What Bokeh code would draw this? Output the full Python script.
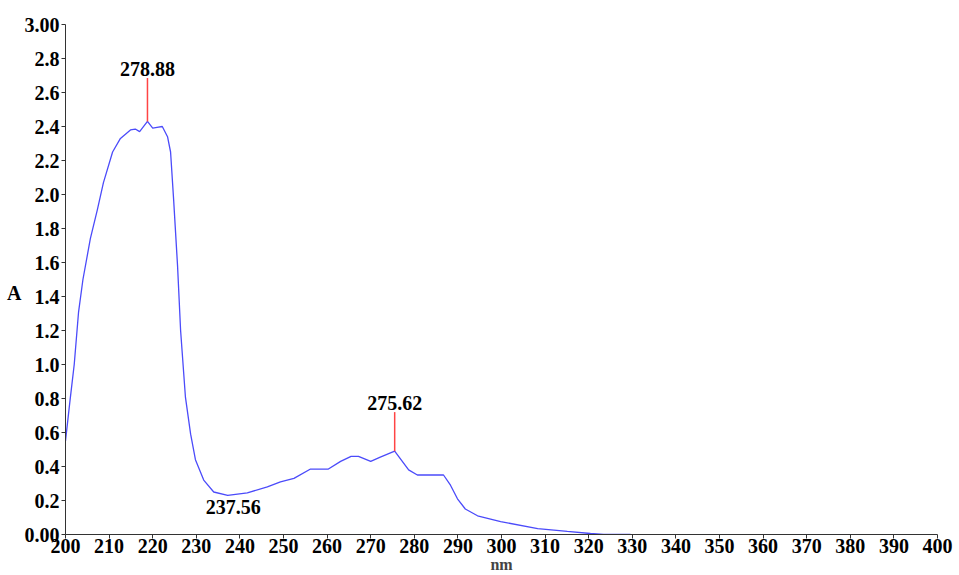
from bokeh.plotting import figure
from bokeh.models import FixedTicker
from bokeh.core.properties import value
from bokeh.embed import file_html
from bokeh.resources import INLINE

# spectrum (nm, absorbance)
wl = [200, 201, 202, 203, 204, 205.7, 207.3, 208.7, 210.8, 212.6, 214.9, 216, 217, 218.8,
      220, 221, 222.2, 223.4, 224.1, 224.8, 225.7, 226.4, 227.5, 228.7, 229.8, 231.7, 234,
      237.2, 241.7, 246.3, 249.3, 252.4, 256.2, 260.3, 263.1, 265.5, 267.2, 270, 272.2, 275.5,
      278.7, 280.7, 283, 286.7, 288.3, 289.9, 291.7, 294.5, 299.8, 308.3, 315.1, 320.4, 323.4, 329.6]
absb = [0.55, 0.78, 1.00, 1.31, 1.50, 1.74, 1.91, 2.07, 2.25, 2.33, 2.38, 2.385, 2.37, 2.43,
        2.39, 2.395, 2.40, 2.34, 2.25, 1.97, 1.58, 1.20, 0.81, 0.59, 0.44, 0.32, 0.25,
        0.23, 0.245, 0.28, 0.31, 0.33, 0.385, 0.385, 0.43, 0.46, 0.46, 0.43, 0.455, 0.49,
        0.38, 0.35, 0.35, 0.35, 0.29, 0.21, 0.15, 0.11, 0.076, 0.035, 0.018, 0.006, 0.0, 0.0]

# peak markers
peak_x = [218.8, 275.5]
peak_base = [2.43, 0.49]
peak_tip = [2.685, 0.72]
peak_labels = ["278.88", "275.62"]

# valley label
valley_x = [238.5]
valley_y = [0.16]
valley_labels = ["237.56"]

x_ticks = [200, 210, 220, 230, 240, 250, 260, 270, 280, 290, 300, 310, 320, 330, 340, 350, 360, 370, 380, 390, 400]
y_ticks = [0.0, 0.2, 0.4, 0.6, 0.8, 1.0, 1.2, 1.4, 1.6, 1.8, 2.0, 2.2, 2.4, 2.6, 2.8, 3.0]
y_tick_labels = ["0.00", "0.2", "0.4", "0.6", "0.8", "1.0", "1.2", "1.4", "1.6", "1.8", "2.0", "2.2", "2.4", "2.6", "2.8", "3.00"]

FONT = "Liberation Serif"
FS = "20px"

p = figure(width=959, height=575, x_range=(200, 400), y_range=(0, 3.0),
           output_backend="svg", toolbar_location=None,
           min_border_left=65, min_border_right=22, min_border_top=24, min_border_bottom=37)
p.outline_line_color = None
p.grid.visible = False
p.background_fill_color = "white"

p.line(wl, absb, line_color="#4b4bfa", line_width=1.3)

p.segment(x0=peak_x, y0=peak_base, x1=peak_x, y1=peak_tip, line_color="#ff4444", line_width=1.5)
p.text(x=peak_x, y=[t + 0.015 for t in peak_tip], text=peak_labels, text_font=value(FONT),
       text_font_style="bold", text_font_size=FS, text_align="center", text_baseline="bottom",
       text_color="black")
p.text(x=valley_x, y=valley_y, text=valley_labels, text_font=value(FONT),
       text_font_style="bold", text_font_size=FS, text_align="center", text_baseline="middle",
       text_color="black")

xa = p.xaxis[0]
xa.ticker = FixedTicker(ticks=x_ticks)
xa.axis_label = "nm"
xa.axis_label_text_font = FONT
xa.axis_label_text_font_style = "bold"
xa.axis_label_text_font_size = "16px"
xa.axis_label_standoff = 0
xa.major_label_standoff = 0

ya = p.yaxis[0]
ya.ticker = FixedTicker(ticks=y_ticks)
ya.major_label_overrides = {t: l for t, l in zip(y_ticks, y_tick_labels)}
ya.major_label_standoff = 2
ya.axis_label = "\nA"
ya.axis_label_orientation = "horizontal"
ya.axis_label_text_font = FONT
ya.axis_label_text_font_style = "bold"
ya.axis_label_text_font_size = FS
ya.axis_label_text_color = "black"
ya.axis_label_standoff = 0

for ax in (xa, ya):
    ax.axis_line_color = "#333333"
    ax.axis_line_width = 1
    ax.major_tick_line_color = "#333333"
    ax.major_tick_out = 4
    ax.major_tick_in = 0
    ax.minor_tick_line_color = None
    ax.major_label_text_font = FONT
    ax.major_label_text_font_style = "bold"
    ax.major_label_text_font_size = FS
    ax.major_label_text_color = "black"

open("out.html", "w").write(file_html(p, INLINE))
